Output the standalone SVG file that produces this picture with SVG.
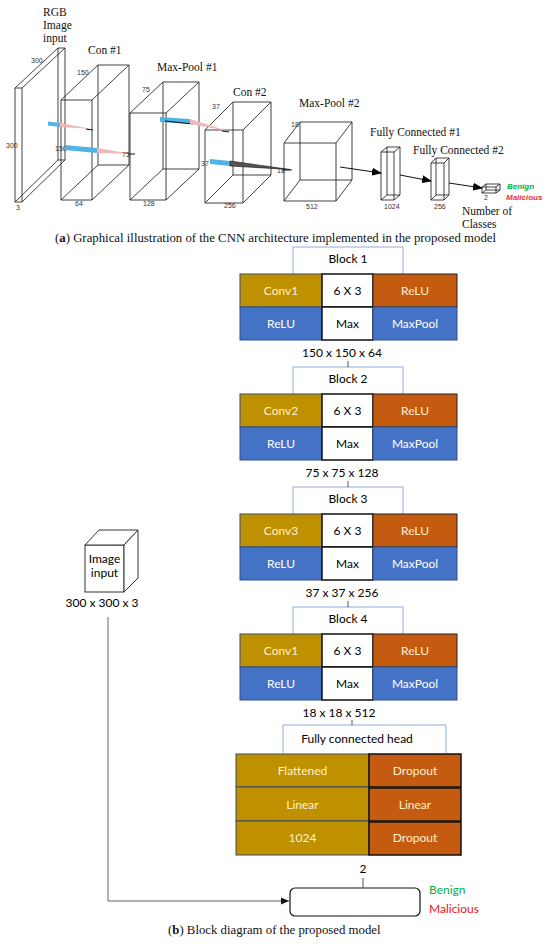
<svg xmlns="http://www.w3.org/2000/svg" width="550" height="944" viewBox="0 0 550 944">
<style>
.w{fill:none;stroke:#111;stroke-width:0.8}
.t{font-family:"Liberation Serif",serif;font-size:11.5px;fill:#111}
.cap{font-family:"Liberation Serif",serif;font-size:12.8px;fill:#111}
.n{font-family:"Liberation Sans",sans-serif;font-size:7px;fill:#333}
.c{font-family:Lato,"Liberation Sans",sans-serif;font-size:12px;text-anchor:middle}
.br{fill:none;stroke:#8FAADC;stroke-width:1}
.gold{fill:#BF9000;stroke:#3A4A63;stroke-width:1}
.org{fill:#C55A11;stroke:#222;stroke-width:1}
.blu{fill:#4472C4;stroke:#2F4F8F;stroke-width:1}
.wht{fill:#fff;stroke:#111;stroke-width:1.5}
.lt{fill:#FFF2CC}
.wt{fill:#fff}
.tick{stroke:#555;stroke-width:1}
</style>
<defs>
<marker id="ah" markerWidth="10" markerHeight="8" refX="9" refY="4" orient="auto" markerUnits="userSpaceOnUse">
<path d="M0,0 L10,4 L0,8 Z" fill="#000"/>
</marker>
<marker id="ah2" markerWidth="8" markerHeight="8" refX="8" refY="4" orient="auto" markerUnits="userSpaceOnUse">
<path d="M0,0.5 L8,4 L0,7.5 Z" fill="#111"/>
</marker>
</defs>

<!-- ===== (a) ===== -->
<g id="input-slab">
<path class="w" d="M15,88 h7 v114 h-7 Z M58,48 h7 v112 h-7 Z M15,88 L58,48 M22,88 L65,48 M22,202 L65,160 M15,202 L58,160"/>
<text class="t" x="43" y="16">RGB</text>
<text class="t" x="43" y="29">Image</text>
<text class="t" x="43" y="42">input</text>
<text class="n" x="31" y="63">300</text>
<text class="n" x="6" y="148">300</text>
<text class="n" x="16" y="210">3</text>
</g>

<g id="con1">
<path class="w" d="M61,100 h31 v100 h-31 Z M98,65 h31 v100 h-31 Z M61,100 L98,65 M92,100 L129,65 M92,200 L129,165 M61,200 L98,165"/>
<text class="t" x="88" y="54">Con #1</text>
<text class="n" x="77" y="75">150</text>
<text class="n" x="55" y="151">150</text>
<text class="n" x="75" y="206">64</text>
</g>

<g id="maxpool1">
<path class="w" d="M130,113 h36 v87 h-36 Z M163,82 h36 v87 h-36 Z M130,113 L163,82 M166,113 L199,82 M166,200 L199,169 M130,200 L163,169"/>
<text class="t" x="157" y="71">Max-Pool #1</text>
<text class="n" x="142" y="92">75</text>
<text class="n" x="143" y="206">128</text>
</g>

<g id="con2">
<path class="w" d="M205,130 h38 v73 h-38 Z M233,102 h38 v73 h-38 Z M205,130 L233,102 M243,130 L271,102 M243,203 L271,175 M205,203 L233,175"/>
<text class="t" x="233" y="96">Con #2</text>
<text class="n" x="212" y="109">37</text>
<text class="n" x="201" y="166">37</text>
<text class="n" x="224" y="208">256</text>
</g>

<g id="maxpool2">
<path class="w" d="M284,143 h52 v58 h-52 Z M300,122 h52 v58 h-52 Z M284,143 L300,122 M336,143 L352,122 M336,201 L352,180 M284,201 L300,180"/>
<text class="t" x="299" y="107">Max-Pool #2</text>
<text class="n" x="291" y="127">18</text>
<text class="n" x="306" y="209">512</text>
</g>

<g id="fc1">
<path class="w" d="M381,152 h13 v48 h-13 Z M387,147 h13 v48 h-13 Z M381,152 L387,147 M394,152 L400,147 M394,200 L400,195 M381,200 L387,195"/>
<text class="t" x="370" y="136">Fully Connected #1</text>
<text class="n" x="384" y="209">1024</text>
</g>

<g id="fc2">
<path class="w" d="M431,163 h13 v37 h-13 Z M436,158 h13 v37 h-13 Z M431,163 L436,158 M444,163 L449,158 M444,200 L449,195 M431,200 L436,195"/>
<text class="t" x="413" y="154">Fully Connected #2</text>
<text class="n" x="434" y="209">256</text>
</g>

<g id="out-a">
<path class="w" d="M482,187 h14 v6 h-14 Z M486,184 h14 v6 h-14 Z M482,187 L486,184 M496,187 L500,184 M496,193 L500,190 M482,193 L486,190"/>
<text class="n" x="484" y="200">2</text>
<text x="507" y="189" style="font-family:'Liberation Sans',sans-serif;font-size:8px;font-weight:bold;font-style:italic;fill:#00B050">Benign</text>
<text x="506" y="200" style="font-family:'Liberation Sans',sans-serif;font-size:8px;font-weight:bold;font-style:italic;fill:#F03030">Malicious</text>
<text class="t" x="462" y="215">Number of</text>
<text class="t" x="462" y="228">Classes</text>
</g>

<g id="kernels">
<polygon points="48,121.5 60,123 60,127 48,125.5" fill="#4FB3E3"/>
<polygon points="60,123 92,129 60,127" fill="#F2B8B8"/>
<line x1="86" y1="129" x2="93" y2="130" stroke="#111" stroke-width="1"/>
<polygon points="65,145 97,148 97,153 65,150" fill="#4FB3E3"/>
<polygon points="97,148 133,154 97,153" fill="#F2B8B8"/>
<line x1="128" y1="154" x2="135" y2="154" stroke="#111" stroke-width="1"/>
<text class="n" x="122" y="157">75</text>
<polygon points="160,117 190,119 190,124 160,122" fill="#4FB3E3"/>
<line x1="165" y1="121" x2="193" y2="124" stroke="#111" stroke-width="1"/>
<polygon points="190,119 228,131 190,124" fill="#F2B8B8"/>
<line x1="222" y1="131" x2="229" y2="132" stroke="#111" stroke-width="1"/>
<polygon points="210,159 230,161 230,166 210,164" fill="#4FB3E3"/>
<polygon points="230,161 290,169.5 230,166" fill="#555" stroke="#111" stroke-width="0.6"/>
<line x1="282" y1="170" x2="292" y2="170" stroke="#111" stroke-width="1"/>
<text class="n" x="277" y="173">18</text>
</g>

<g id="connectors-a">
<line x1="340" y1="167" x2="381" y2="173" stroke="#111" stroke-width="1" marker-end="url(#ah)"/>
<line x1="400" y1="175" x2="431" y2="181" stroke="#111" stroke-width="1" marker-end="url(#ah)"/>
<line x1="449" y1="183" x2="482" y2="188" stroke="#111" stroke-width="1" marker-end="url(#ah)"/>
</g>

<text class="cap" x="55" y="242">(<tspan font-weight="bold">a</tspan>) Graphical illustration of the CNN architecture implemented in the proposed model</text>

<!-- ===== (b) ===== -->
<g id="block1">
<path class="br" d="M293,274 V247 H403 V274"/>
<text class="c" x="348" y="263">Block 1</text>
<rect class="gold" x="240" y="274" width="82" height="33"/>
<rect class="wht" x="322" y="274" width="51" height="33"/>
<rect class="org" x="373" y="274" width="84" height="33"/>
<rect class="blu" x="240" y="307" width="82" height="33"/>
<rect class="wht" x="322" y="307" width="51" height="33"/>
<rect class="blu" x="373" y="307" width="84" height="33"/>
<text class="c lt" x="281" y="295">Conv1</text>
<text class="c" x="347.5" y="295">6 X 3</text>
<text class="c lt" x="415" y="295">ReLU</text>
<text class="c wt" x="281" y="328">ReLU</text>
<text class="c" x="347.5" y="328">Max</text>
<text class="c wt" x="415" y="328">MaxPool</text>
<text class="c" x="342" y="357">150 x 150 x 64</text>
</g>

<g id="block2" transform="translate(0,120)">
<path class="br" d="M293,274 V247 H403 V274"/>
<text class="c" x="348" y="263">Block 2</text>
<rect class="gold" x="240" y="274" width="82" height="33"/>
<rect class="wht" x="322" y="274" width="51" height="33"/>
<rect class="org" x="373" y="274" width="84" height="33"/>
<rect class="blu" x="240" y="307" width="82" height="33"/>
<rect class="wht" x="322" y="307" width="51" height="33"/>
<rect class="blu" x="373" y="307" width="84" height="33"/>
<text class="c lt" x="281" y="295">Conv2</text>
<text class="c" x="347.5" y="295">6 X 3</text>
<text class="c lt" x="415" y="295">ReLU</text>
<text class="c wt" x="281" y="328">ReLU</text>
<text class="c" x="347.5" y="328">Max</text>
<text class="c wt" x="415" y="328">MaxPool</text>
<text class="c" x="342" y="357">75 x 75 x 128</text>
</g>

<g id="block3" transform="translate(0,240)">
<path class="br" d="M293,274 V247 H403 V274"/>
<text class="c" x="348" y="263">Block 3</text>
<rect class="gold" x="240" y="274" width="82" height="33"/>
<rect class="wht" x="322" y="274" width="51" height="33"/>
<rect class="org" x="373" y="274" width="84" height="33"/>
<rect class="blu" x="240" y="307" width="82" height="33"/>
<rect class="wht" x="322" y="307" width="51" height="33"/>
<rect class="blu" x="373" y="307" width="84" height="33"/>
<text class="c lt" x="281" y="295">Conv3</text>
<text class="c" x="347.5" y="295">6 X 3</text>
<text class="c lt" x="415" y="295">ReLU</text>
<text class="c wt" x="281" y="328">ReLU</text>
<text class="c" x="347.5" y="328">Max</text>
<text class="c wt" x="415" y="328">MaxPool</text>
<text class="c" x="342" y="357">37 x 37 x 256</text>
</g>

<g id="block4" transform="translate(0,360)">
<path class="br" d="M293,274 V247 H403 V274"/>
<text class="c" x="348" y="263">Block 4</text>
<rect class="gold" x="240" y="274" width="82" height="33"/>
<rect class="wht" x="322" y="274" width="51" height="33"/>
<rect class="org" x="373" y="274" width="84" height="33"/>
<rect class="blu" x="240" y="307" width="82" height="33"/>
<rect class="wht" x="322" y="307" width="51" height="33"/>
<rect class="blu" x="373" y="307" width="84" height="33"/>
<text class="c lt" x="281" y="295">Conv1</text>
<text class="c" x="347.5" y="295">6 X 3</text>
<text class="c lt" x="415" y="295">ReLU</text>
<text class="c wt" x="281" y="328">ReLU</text>
<text class="c" x="347.5" y="328">Max</text>
<text class="c wt" x="415" y="328">MaxPool</text>
<text class="c" x="339" y="357">18 x 18 x 512</text>
</g>

<g id="fc-head">
<path class="br" d="M283,753 V725 H446 V753"/>
<text class="c" x="357" y="743">Fully connected head</text>
<rect class="gold" x="236" y="754" width="133" height="33"/>
<rect class="gold" x="236" y="787" width="133" height="34"/>
<rect class="gold" x="236" y="821" width="133" height="34"/>
<rect x="369" y="754" width="92" height="33" fill="#C55A11" stroke="#111" stroke-width="1.5"/>
<rect x="369" y="788" width="92" height="33" fill="#C55A11" stroke="#111" stroke-width="1.5"/>
<rect x="369" y="822" width="92" height="33" fill="#C55A11" stroke="#111" stroke-width="1.5"/>
<text class="c lt" x="302.5" y="775">Flattened</text>
<text class="c lt" x="415" y="775">Dropout</text>
<text class="c lt" x="302.5" y="809">Linear</text>
<text class="c lt" x="415" y="809">Linear</text>
<text class="c lt" x="302.5" y="842">1024</text>
<text class="c lt" x="415" y="842">Dropout</text>
</g>

<g id="image-input">
<rect x="85" y="545" width="39" height="47" fill="#fff" stroke="#333" stroke-width="1"/>
<polygon points="85,545 99,530 138,530 124,545" fill="#fff" stroke="#333" stroke-width="1"/>
<polygon points="124,545 138,530 138,578 124,592" fill="#fff" stroke="#333" stroke-width="1"/>
<text class="c" x="104.5" y="563">Image</text>
<text class="c" x="104.5" y="577">input</text>
<text class="c" x="102" y="607">300 x 300 x 3</text>
</g>

<g id="output">
<rect x="290" y="888" width="130" height="28" rx="5" fill="#fff" stroke="#111" stroke-width="1.2"/>
<text class="c" x="363" y="873">2</text>
<text x="429" y="894" style="font-family:Lato,'Liberation Sans',sans-serif;font-size:12px;fill:#00B050">Benign</text>
<text x="429" y="913" style="font-family:Lato,'Liberation Sans',sans-serif;font-size:12px;fill:#E81818">Malicious</text>
</g>

<g id="connectors-b">
<line class="tick" x1="348" y1="361" x2="348" y2="367"/>
<line class="tick" x1="348" y1="481" x2="348" y2="487"/>
<line class="tick" x1="348" y1="601" x2="348" y2="607"/>
<line class="tick" x1="352" y1="720" x2="352" y2="725"/>
<line class="tick" x1="363" y1="878" x2="363" y2="888"/>
<path d="M108,617 V901 H289" fill="none" stroke="#666" stroke-width="1" marker-end="url(#ah2)"/>
</g>

<text class="cap" x="168" y="934">(<tspan font-weight="bold">b</tspan>) Block diagram of the proposed model</text>
</svg>
